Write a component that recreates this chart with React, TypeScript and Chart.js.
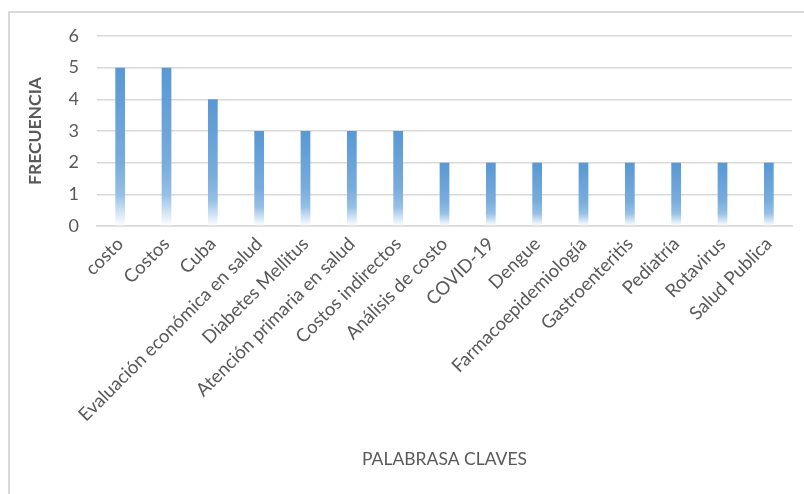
import React, { useEffect, useRef } from "react";
import { Chart, registerables } from "chart.js";

Chart.register(...registerables);

const categories = [
  "costo",
  "Costos",
  "Cuba",
  "Evaluación económica en salud",
  "Diabetes Mellitus",
  "Atención primaria en salud",
  "Costos indirectos",
  "Análisis de costo",
  "COVID-19",
  "Dengue",
  "Farmacoepidemiología",
  "Gastroenteritis",
  "Pediatría",
  "Rotavirus",
  "Salud Publica",
];
const frecuencia = [5, 5, 4, 3, 3, 3, 3, 2, 2, 2, 2, 2, 2, 2, 2];
const yTicks = [0, 1, 2, 3, 4, 5, 6];

const FONT = "Lato, 'Open Sans', sans-serif";
const TEXT = "#595959";

export default function App() {
  const ref = useRef<HTMLCanvasElement | null>(null);
  useEffect(() => {
    if (!ref.current) return;
    const chart = new Chart(ref.current, {
      type: "bar",
      data: {
        labels: categories,
        datasets: [
          {
            label: "FRECUENCIA",
            data: frecuencia,
            barPercentage: 0.21,
            categoryPercentage: 1,
            borderWidth: 0,
            backgroundColor: (ctx: any) => {
              const c = ctx.chart;
              const ys = c.scales?.y;
              if (!ys || ctx.raw == null) return "#5B9BD5";
              const top = ys.getPixelForValue(ctx.raw);
              const bot = ys.getPixelForValue(0);
              if (!isFinite(top) || !isFinite(bot) || top === bot) return "#5B9BD5";
              const g = c.ctx.createLinearGradient(0, top, 0, bot);
              g.addColorStop(0, "#5898D4");
              g.addColorStop(0.6, "#78ACDC");
              g.addColorStop(0.8, "#96BFE5");
              g.addColorStop(0.91, "#D0E3F4");
              g.addColorStop(1, "#FFFFFF");
              return g;
            },
          },
        ],
      },
      options: {
        animation: false,
        responsive: false,
        maintainAspectRatio: false,
        layout: { padding: { top: 23, right: 12, bottom: 20, left: 0 } },
        plugins: { legend: { display: false }, tooltip: { enabled: false } },
        scales: {
          x: {
            afterFit: (s: any) => {
              s.height = 248;
            },
            grid: { display: false, drawTicks: false },
            border: { display: true, color: "#D9D9D9", width: 1.5 },
            ticks: {
              color: TEXT,
              font: { family: FONT, size: 18.5 },
              minRotation: 45,
              maxRotation: 45,
              autoSkip: false,
              padding: 7,
            },
            title: {
              display: true,
              text: "PALABRASA CLAVES",
              color: TEXT,
              font: { family: FONT, size: 17.5 },
              padding: { top: 4, bottom: 4 },
            },
          },
          y: {
            min: 0,
            max: 6,
            afterFit: (s: any) => {
              s.width = 87;
              s.paddingTop = 0;
              s.paddingBottom = 0;
            },
            afterBuildTicks: (s: any) => {
              s.ticks = yTicks.map((v) => ({ value: v }));
            },
            grid: { color: "#D9D9D9", lineWidth: 1.5, drawTicks: false },
            border: { display: false },
            ticks: {
              color: TEXT,
              font: { family: FONT, size: 18 },
              padding: 18,
            },
            title: {
              display: true,
              text: "FRECUENCIA",
              color: TEXT,
              font: { family: FONT, size: 17.5, weight: "bold" },
              padding: { top: 15, bottom: 0 },
            },
          },
        },
      },
    });
    return () => chart.destroy();
  }, []);

  return (
    <div
      style={{
        position: "absolute",
        left: 8,
        top: 11,
        width: 796,
        height: 483,
        borderTop: "2px solid #D9D9D9",
        borderLeft: "2px solid #D9D9D9",
        boxSizing: "border-box",
        background: "#fff",
      }}
    >
      <canvas ref={ref} width={794} height={481} style={{ display: "block" }} />
    </div>
  );
}
